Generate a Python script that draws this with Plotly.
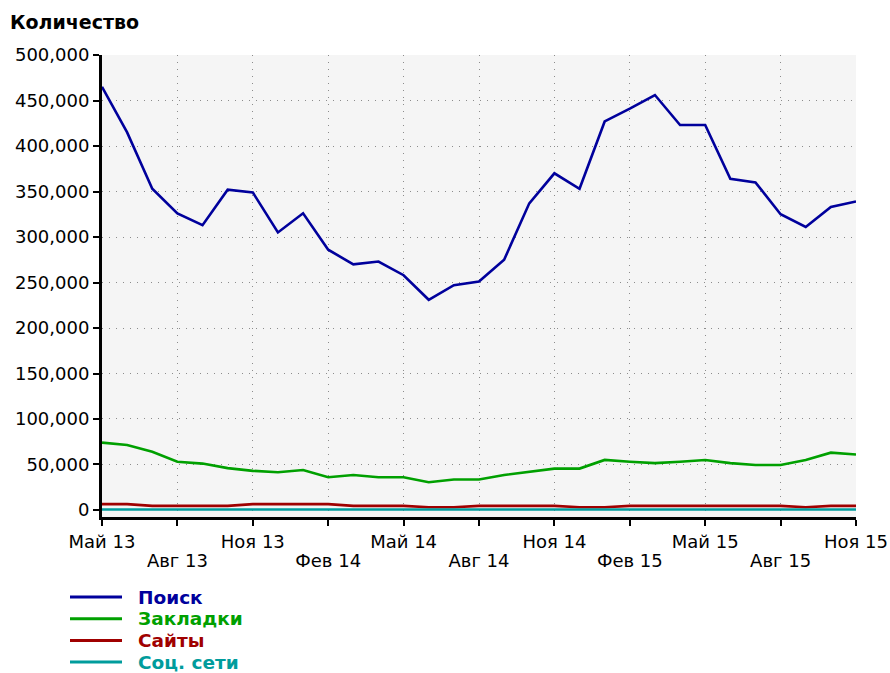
import plotly.graph_objects as go

# ---------------- data ----------------
months = ["Май 13", "Июн 13", "Июл 13", "Авг 13", "Сен 13", "Окт 13", "Ноя 13", "Дек 13",
          "Янв 14", "Фев 14", "Мар 14", "Апр 14", "Май 14", "Июн 14", "Июл 14", "Авг 14",
          "Сен 14", "Окт 14", "Ноя 14", "Дек 14", "Янв 15", "Фев 15", "Мар 15", "Апр 15",
          "Май 15", "Июн 15", "Июл 15", "Авг 15", "Сен 15", "Окт 15", "Ноя 15"]

search = [465000, 415000, 353000, 326000, 313000, 352000, 349000, 305000,
          326000, 286000, 270000, 273000, 258000, 231000, 247000, 251000,
          275000, 337000, 370000, 353000, 427000, 441000, 456000, 423000,
          423000, 364000, 360000, 325000, 311000, 333000, 339000]

bookmarks = [74000, 71500, 64000, 53000, 51000, 46000, 43000, 41500,
             44000, 36000, 38500, 36000, 36000, 30500, 33500, 33500,
             38500, 42000, 45500, 45500, 55000, 53000, 51500, 53000,
             55000, 51500, 49500, 49500, 55000, 63000, 61000]

sites = [6500, 6500, 4500, 4500, 4500, 4500, 6500, 6500,
         6500, 6500, 4500, 4500, 4500, 3000, 3000, 4500,
         4500, 4500, 4500, 3000, 3000, 4500, 4500, 4500,
         4500, 4500, 4500, 4500, 3000, 4500, 4500]

social = [600, 600, 600, 600, 600, 600, 600, 600,
          600, 600, 600, 600, 600, 600, 600, 600,
          600, 600, 600, 600, 600, 600, 600, 600,
          600, 600, 600, 600, 600, 600, 600]

series_names = ["Поиск", "Закладки", "Сайты", "Соц. сети"]
series_values = [search, bookmarks, sites, social]
series_colors = ["#00009c", "#00a000", "#a00000", "#009c9c"]

row1_ticks = ["Май 13", "Ноя 13", "Май 14", "Ноя 14", "Май 15", "Ноя 15"]
row2_ticks = ["Авг 13", "Фев 14", "Авг 14", "Фев 15", "Авг 15"]

y_ticks = [0, 50000, 100000, 150000, 200000, 250000, 300000, 350000, 400000, 450000, 500000]
y_title = "Количество"

# ---------------- figure ----------------
FONT = "DejaVu Sans"
xs = list(range(len(months)))

fig = go.Figure()
for name, vals, col in zip(series_names, series_values, series_colors):
    fig.add_trace(go.Scatter(x=xs, y=vals, mode="lines", name=name,
                             line=dict(color=col, width=2.6),
                             showlegend=False, hoverinfo="skip"))

all_ticks = sorted(row1_ticks + row2_ticks, key=lambda m: months.index(m))
tickvals1 = [months.index(m) for m in all_ticks]
ticktext1 = [m if m in row1_ticks else "" for m in all_ticks]
tickvals2 = [months.index(m) for m in row2_ticks]

GRID = dict(showgrid=True, gridcolor="#8c8c8c", griddash="1px,6px", gridwidth=1)

fig.update_layout(
    width=890, height=673,
    margin=dict(l=102, r=34, t=55, b=156, autoexpand=False),
    paper_bgcolor="white",
    plot_bgcolor="#f5f5f5",
    font=dict(family=FONT, size=18, color="black"),
    xaxis=dict(
        type="linear", range=[0, len(months) - 1], automargin=False,
        tickvals=tickvals1, ticktext=ticktext1,
        ticks="outside", ticklen=6, tickwidth=2, tickcolor="black",
        showline=True, linecolor="black", linewidth=3,
        zeroline=False, tickfont=dict(family=FONT, size=18), **GRID,
    ),
    xaxis2=dict(
        type="linear", range=[0, len(months) - 1], automargin=False,
        overlaying="x", anchor="y", side="bottom",
        tickvals=tickvals2, ticktext=row2_ticks,
        showgrid=False, ticks="", showline=False, zeroline=False,
        ticklabelstandoff=31, tickfont=dict(family=FONT, size=18),
    ),
    yaxis=dict(
        range=[-7700, 500000], tickvals=y_ticks, tickformat=",", automargin=False,
        ticks="outside", ticklen=6, tickwidth=2, tickcolor="black",
        showline=True, linecolor="black", linewidth=3,
        zeroline=False, tickfont=dict(family=FONT, size=18), **GRID,
    ),
)

# invisible helper trace so that the second-row tick axis is rendered
fig.add_trace(go.Scatter(x=tickvals2, y=[None] * len(tickvals2), xaxis="x2", yaxis="y",
                         mode="lines", showlegend=False, hoverinfo="skip"))

# title
fig.add_annotation(text="<b>" + y_title + "</b>", xref="paper", yref="paper",
                   x=(8 - 102) / 754.0, y=(517 - 22) / 462.0, xanchor="left", yanchor="middle",
                   showarrow=False, font=dict(family=FONT, size=19, color="black"))

# manual legend
plot_w = 754.0
plot_h = 462.0
for i, (name, col) in enumerate(zip(series_names, series_colors)):
    py = 597 + i * 21.7
    yp = (517 - py) / plot_h
    fig.add_shape(type="line", xref="paper", yref="paper",
                  x0=(70 - 102) / plot_w, x1=(122 - 102) / plot_w, y0=yp, y1=yp,
                  line=dict(color=col, width=3))
    fig.add_annotation(text="<b>" + name + "</b>", xref="paper", yref="paper",
                       x=(136 - 102) / plot_w, y=yp, xanchor="left", yanchor="middle",
                       showarrow=False, font=dict(family=FONT, size=18.5, color=col))

fig.write_html("out.html", config={"displayModeBar": False},
               post_script="document.body.style.margin='0';")
